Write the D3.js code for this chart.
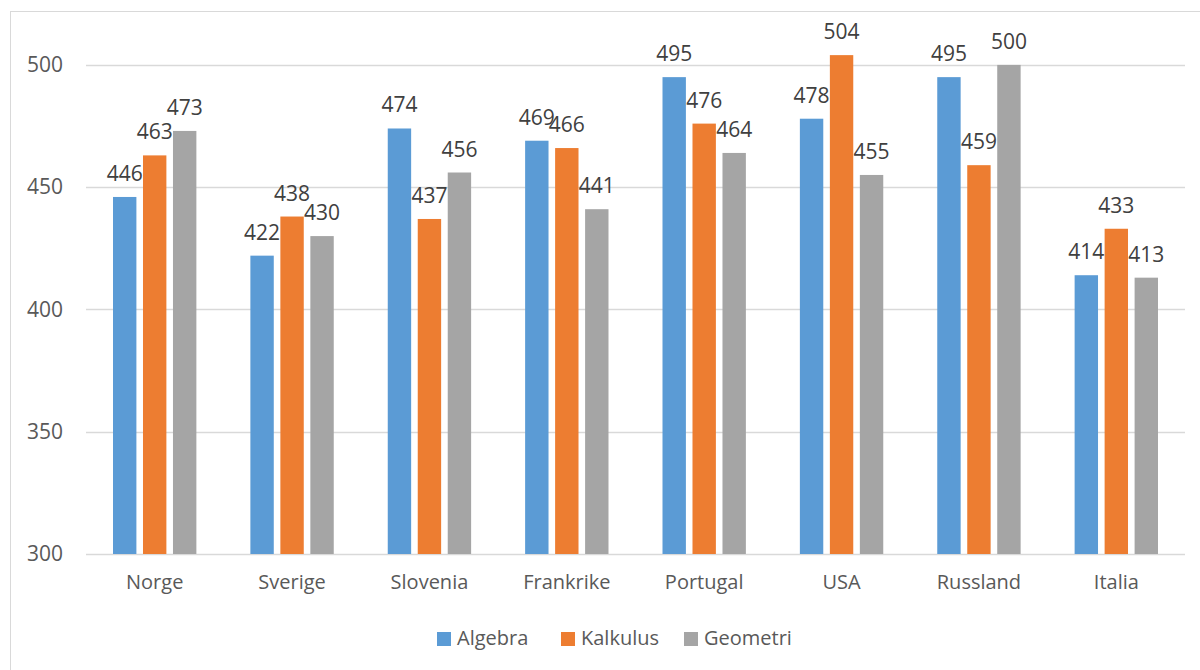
<!DOCTYPE html>
<html>
<head>
<meta charset="utf-8">
<script src="https://cdn.jsdelivr.net/npm/d3@7/dist/d3.min.js"></script>
<style>
  html, body { margin: 0; padding: 0; background: #fff; }
  svg { display: block; font-family: "Open Sans", sans-serif; }
</style>
</head>
<body>
<svg id="chart" width="1200" height="670"></svg>
<script>
// Countries on the x axis
const categories = ["Norge", "Sverige", "Slovenia", "Frankrike", "Portugal", "USA", "Russland", "Italia"];
// Scores per topic
const series = ["Algebra", "Kalkulus", "Geometri"];
const algebra  = [446, 422, 474, 469, 495, 478, 495, 414];
const kalkulus = [463, 438, 437, 466, 476, 504, 459, 433];
const geometri = [473, 430, 456, 441, 464, 455, 500, 413];
const yTicks = [300, 350, 400, 450, 500];

const colors = { Algebra: "#5B9BD5", Kalkulus: "#ED7D31", Geometri: "#A5A5A5" };
const values = { Algebra: algebra, Kalkulus: kalkulus, Geometri: geometri };

const svg = d3.select("#chart");

// outer chart frame
svg.append("rect")
  .attr("x", 10.5).attr("y", 11.5)
  .attr("width", 1220).attr("height", 700)
  .attr("fill", "none").attr("stroke", "#D9D9D9").attr("stroke-width", 1);

const plot = { left: 86, right: 1185, top: 16, bottom: 554 };

const y = d3.scaleLinear().domain([300, 520]).range([plot.bottom, plot.top]);
const x0 = d3.scaleBand().domain(categories).range([plot.left, plot.right]).padding(0);
const x1 = d3.scaleBand().domain(series)
  .range([27, x0.bandwidth() - 27]).paddingInner(0.22).paddingOuter(0);

// gridlines
svg.append("g").selectAll("line")
  .data(yTicks)
  .join("line")
  .attr("x1", plot.left).attr("x2", plot.right)
  .attr("y1", d => Math.round(y(d)) + 0.5).attr("y2", d => Math.round(y(d)) + 0.5)
  .attr("stroke", "#D9D9D9").attr("stroke-width", 1.5);

// y axis labels
const yAxis = d3.axisLeft(y).tickValues(yTicks).tickSize(0).tickPadding(0);
svg.append("g")
  .attr("transform", `translate(63,0)`)
  .call(yAxis)
  .call(g => g.select(".domain").remove())
  .call(g => g.selectAll("text")
    .attr("fill", "#595959").attr("font-size", 21)
    .attr("font-family", "'Open Sans', sans-serif"));

// x axis labels
const xAxis = d3.axisBottom(x0).tickSize(0).tickPadding(0);
svg.append("g")
  .attr("transform", `translate(0,${plot.bottom + 21})`)
  .call(xAxis)
  .call(g => g.select(".domain").remove())
  .call(g => g.selectAll("text")
    .attr("fill", "#595959").attr("font-size", 20)
    .attr("font-family", "'Open Sans', sans-serif"));

// bars and value labels
const rows = [];
categories.forEach((c, i) => series.forEach(s => rows.push({ c, s, v: values[s][i] })));

const groups = svg.append("g");
groups.selectAll("rect")
  .data(rows)
  .join("rect")
  .attr("x", d => x0(d.c) + x1(d.s))
  .attr("width", x1.bandwidth())
  .attr("y", d => y(d.v))
  .attr("height", d => y(300) - y(d.v))
  .attr("fill", d => colors[d.s]);

groups.selectAll("text")
  .data(rows)
  .join("text")
  .attr("x", d => x0(d.c) + x1(d.s) + x1.bandwidth() / 2)
  .attr("y", d => y(d.v) - 16)
  .attr("text-anchor", "middle")
  .attr("font-size", 21)
  .attr("fill", "#404040")
  .text(d => d.v);

// legend
const legendX = [437, 561, 684];
const legend = svg.append("g");
series.forEach((s, i) => {
  legend.append("rect")
    .attr("x", legendX[i]).attr("y", 632)
    .attr("width", 14).attr("height", 14)
    .attr("fill", colors[s]);
  legend.append("text")
    .attr("x", legendX[i] + 20).attr("y", 645)
    .attr("font-size", 20).attr("fill", "#595959")
    .text(s);
});
</script>
</body>
</html>
